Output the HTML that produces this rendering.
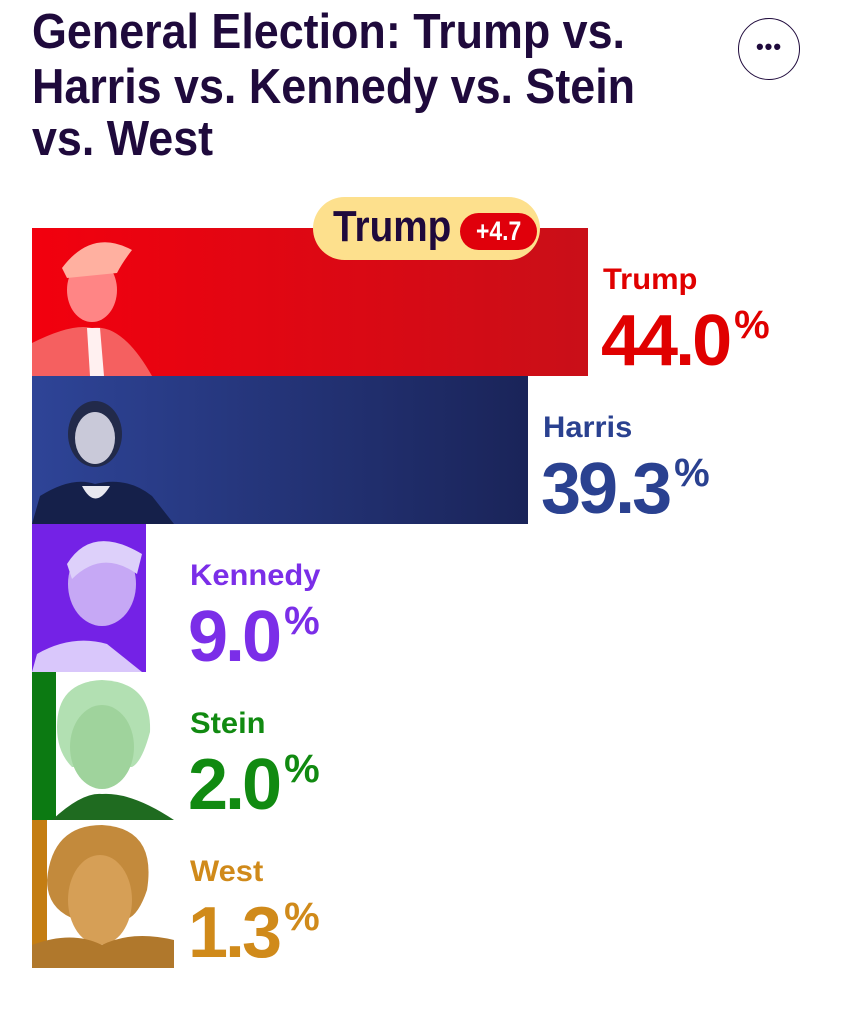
<!DOCTYPE html>
<html><head><meta charset="utf-8"><style>
*{margin:0;padding:0}
body{width:850px;height:1024px;background:#fff;position:relative;overflow:hidden;font-family:"Liberation Sans",sans-serif}
.a{position:absolute;white-space:nowrap;line-height:1;font-weight:bold}
.t{font-size:49px;color:#1f0a3c;transform:scaleX(0.915);transform-origin:0 0;left:32px}
.n{font-size:30px;transform:scaleX(1.03);transform-origin:0 0}
.p{font-size:72px;transform:scaleX(1.0);transform-origin:0 0;letter-spacing:-3px}
.p sup{font-size:40px;vertical-align:top;position:relative;top:0px;margin-left:5px;letter-spacing:0}
.bar{position:absolute;left:32px;height:148px}
svg{position:absolute}
</style></head><body>
<div class="a t" style="top:8px">General Election: Trump vs.</div>
<div class="a t" style="top:63px">Harris vs. Kennedy vs. Stein</div>
<div class="a t" style="top:115px">vs. West</div>
<div style="position:absolute;left:738px;top:18px;width:60px;height:60px;border:1.5px solid #1f0a3c;border-radius:50%;text-align:center;line-height:56px;font-size:22px;font-weight:bold;color:#1f0a3c;letter-spacing:1px">•••</div>

<div class="bar" style="top:228px;width:556px;background:linear-gradient(90deg,#f2000e,#c90f18)"></div>
<div class="bar" style="top:376px;width:496px;background:linear-gradient(90deg,#2e4497,#1a2459)"></div>
<div class="bar" style="top:524px;width:114px;background:#7422e6"></div>
<div class="bar" style="top:672px;width:24px;background:#0c7a12"></div>
<div class="bar" style="top:820px;width:15px;background:#c47d12"></div>

<svg style="left:32px;top:228px" width="130" height="148"><ellipse cx="60" cy="62" rx="25" ry="32" fill="#ff8585"/><path d="M30 40 Q60 0 100 22 Q90 35 85 45 L35 50Z" fill="#ffb0a0"/><path d="M0 148 L0 115 Q40 95 60 100 Q90 95 120 148Z" fill="#f56060"/><path d="M55 100 L68 100 L72 148 L58 148Z" fill="#fff0f0"/></svg>
<svg style="left:32px;top:376px" width="145" height="148"><ellipse cx="63" cy="58" rx="27" ry="33" fill="#222a4a"/><ellipse cx="63" cy="62" rx="20" ry="26" fill="#c9c9d9"/><path d="M0 148 L8 120 Q40 100 63 108 Q95 100 120 120 L142 148Z" fill="#15204a"/><path d="M50 110 Q63 135 78 110" fill="#e8e8f0"/></svg>
<svg style="left:32px;top:524px" width="114" height="148"><ellipse cx="70" cy="60" rx="34" ry="42" fill="#c6a8f5"/><path d="M35 40 Q60 0 110 30 L105 50 Q70 25 40 55Z" fill="#ddd0fa"/><path d="M0 148 L5 130 Q40 110 75 120 L110 148Z" fill="#d9c7fb"/></svg>
<svg style="left:32px;top:672px" width="145" height="148"><path d="M25 55 Q25 10 70 8 Q120 10 118 60 Q110 90 100 95 L40 95 Q25 80 25 55Z" fill="#b2e0b2"/><ellipse cx="70" cy="75" rx="32" ry="42" fill="#9fd39c"/><path d="M20 148 Q50 120 70 122 Q100 120 142 148Z" fill="#1f6b20"/></svg>
<svg style="left:32px;top:820px" width="145" height="148"><path d="M15 60 Q20 5 70 5 Q125 8 115 70 Q105 100 90 100 L45 100 Q15 90 15 60Z" fill="#c38a3c"/><ellipse cx="68" cy="80" rx="32" ry="45" fill="#d69f56"/><path d="M0 148 L0 125 Q40 110 70 125 Q100 110 142 120 L142 148Z" fill="#b0782c"/></svg>

<div style="position:absolute;left:313px;top:197px;width:227px;height:63px;background:#fde08d;border-radius:32px"></div>
<div class="a" style="left:333px;top:205px;font-size:44px;color:#1f0a3c;transform:scaleX(0.88);transform-origin:0 0">Trump</div>
<div style="position:absolute;left:460px;top:213px;width:77px;height:37px;background:#e0000b;border-radius:19px;color:#fff;font-weight:bold;font-size:27px;line-height:37px;text-align:center"><span style="display:inline-block;transform:scaleX(0.85)">+4.7</span></div>

<div class="a n" style="left:603px;top:265px;color:#e00000">Trump</div>
<div class="a p" style="left:601px;top:305px;color:#e00000">44.0<sup>%</sup></div>
<div class="a n" style="left:543px;top:413px;color:#2a4190">Harris</div>
<div class="a p" style="left:541px;top:453px;color:#2a4190">39.3<sup>%</sup></div>
<div class="a n" style="left:190px;top:561px;color:#7b2ee8">Kennedy</div>
<div class="a p" style="left:188px;top:601px;color:#7b2ee8">9.0<sup>%</sup></div>
<div class="a n" style="left:190px;top:709px;color:#118a11">Stein</div>
<div class="a p" style="left:188px;top:749px;color:#118a11">2.0<sup>%</sup></div>
<div class="a n" style="left:190px;top:857px;color:#d08a1a">West</div>
<div class="a p" style="left:188px;top:897px;color:#d08a1a">1.3<sup>%</sup></div>
</body></html>
